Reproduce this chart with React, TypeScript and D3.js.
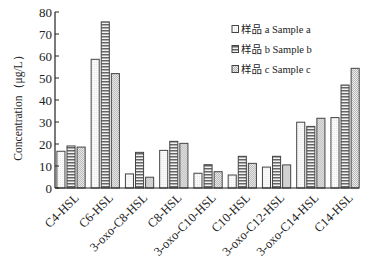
import React from "react";
import * as d3 from "d3";

const categories = ["C4-HSL", "C6-HSL", "3-oxo-C8-HSL", "C8-HSL", "3-oxo-C10-HSL", "C10-HSL", "3-oxo-C12-HSL", "3-oxo-C14-HSL", "C14-HSL"];
const sampleA = [16.7, 58.5, 6.4, 17.1, 6.7, 5.9, 9.5, 29.9, 32.0];
const sampleB = [19.1, 75.5, 16.2, 21.2, 10.6, 14.4, 14.4, 28.0, 46.8];
const sampleC = [18.6, 52.0, 4.9, 20.3, 7.4, 11.2, 10.5, 31.7, 54.4];
const seriesNames = ["样品 a Sample a", "样品 b Sample b", "样品 c Sample c"];
const yTicks = [0, 10, 20, 30, 40, 50, 60, 70, 80];

const W = 377, H = 265;
const axisLeft = 55, axisRight = 359, yTop = 12, yBottom = 188;

export default function App() {
  const series = [sampleA, sampleB, sampleC];
  const y = d3.scaleLinear().domain([0, 80]).range([yBottom, yTop]);
  const x0 = d3.scaleBand<string>().domain(categories).range([53.9, 362.2]).paddingInner(0).paddingOuter(0);
  const inner = d3.scaleBand<number>().domain([0, 1, 2]).range([3, x0.bandwidth() - 3]).paddingInner(0.2);
  const fills = ["url(#patA)", "url(#patB)", "url(#patC)"];
  const font = "'Liberation Serif', 'Times New Roman', serif";
  return (
    <svg width={W} height={H} style={{ position: "absolute", left: 0, top: 0, background: "#fff" }}>
      <defs>
        <pattern id="patA" width="2" height="2" patternUnits="userSpaceOnUse">
          <rect width="2" height="2" fill="#fbfbfb" />
          <rect x="0" y="0" width="1" height="1" fill="#e4e4e4" />
        </pattern>
        <pattern id="patB" width="3" height="3" patternUnits="userSpaceOnUse">
          <rect width="3" height="3" fill="#f2f2f2" />
          <rect x="0" y="0" width="3" height="1.5" fill="#666" />
        </pattern>
        <pattern id="patC" width="2" height="2" patternUnits="userSpaceOnUse">
          <rect width="2" height="2" fill="#efefef" />
          <rect x="0" y="0" width="1" height="1" fill="#b4b4b4" />
          <rect x="1" y="1" width="1" height="1" fill="#b4b4b4" />
        </pattern>
      </defs>
      {categories.map((cat, i) => (
        <g key={cat} transform={`translate(${x0(cat)},0)`}>
          {series.map((s, j) => (
            <rect key={j} x={inner(j)} y={y(s[i])} width={inner.bandwidth()} height={yBottom - y(s[i])}
              fill={fills[j]} stroke="#444" strokeWidth={1} />
          ))}
        </g>
      ))}
      <line x1={axisLeft} x2={axisLeft} y1={yTop} y2={yBottom} stroke="#222" strokeWidth={1.2} />
      <line x1={axisLeft} x2={axisRight} y1={yBottom} y2={yBottom} stroke="#222" strokeWidth={1.2} />
      {yTicks.map(t => (
        <g key={t}>
          <line x1={axisLeft} x2={axisLeft + 4} y1={y(t)} y2={y(t)} stroke="#222" strokeWidth={1} />
          <text x={axisLeft - 3} y={y(t)} dy="0.35em" textAnchor="end" fontFamily={font} fontSize={13} fill="#222">{t}</text>
        </g>
      ))}
      {categories.map(cat => {
        const cx = (x0(cat) as number) + x0.bandwidth() / 2 + 6;
        return (
          <text key={cat} transform={`translate(${cx},196) rotate(-45)`} textAnchor="end" dy="0.3em"
            fontFamily={font} fontSize={12.5} fill="#222">{cat}</text>
        );
      })}
      <text transform={`translate(18,${(yTop + yBottom) / 2 + 5}) rotate(-90)`} textAnchor="middle" dy="0.35em"
        fontFamily={font} fontSize={11.5} fill="#222">Concentration（μg/L）</text>
      {seriesNames.map((name, j) => (
        <g key={name} transform={`translate(232,${29 + j * 20})`}>
          <rect x={0} y={-3.5} width={6.5} height={7} fill={fills[j]} stroke="#444" strokeWidth={1} />
          <text x={9} y={0} dy="0.35em" fontFamily={font} fontSize={10.5} fill="#222">
            <tspan fontFamily="'Noto Sans CJK SC'">样品</tspan>{name.slice(2)}
          </text>
        </g>
      ))}
    </svg>
  );
}
